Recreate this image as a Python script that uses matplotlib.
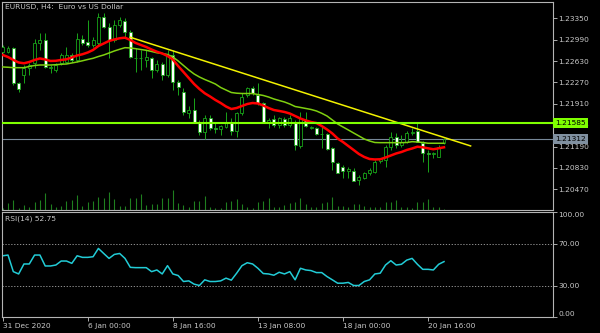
import numpy as np
import matplotlib.pyplot as plt

# EURUSD H4 candles (bar 0 = 31 Dec 2020)
opens = [1.22787, 1.22787, 1.22845, 1.22255, 1.22395, 1.22508, 1.22592, 1.22929, 1.22984, 1.22508,
         1.22479, 1.22592, 1.22619, 1.22732, 1.22648, 1.22996, 1.22956, 1.22900, 1.22929, 1.23377,
         1.23208, 1.22984, 1.23237, 1.23309, 1.23124, 1.22676, 1.22681, 1.22648, 1.22676, 1.22471,
         1.22580, 1.22395, 1.22732, 1.22282, 1.22114, 1.21760, 1.21805, 1.21608, 1.21440, 1.21666,
         1.21497, 1.21480, 1.21524, 1.21608, 1.21457, 1.21750, 1.22058, 1.22171, 1.22058, 1.21918,
         1.21608, 1.21649, 1.21553, 1.21649, 1.21553, 1.21603, 1.21191, 1.21637, 1.21497, 1.21497,
         1.21401, 1.21401, 1.21160, 1.20918, 1.20850, 1.20778, 1.20778, 1.20626, 1.20655, 1.20739,
         1.20766, 1.20952, 1.20963, 1.21177, 1.21356, 1.21216, 1.21266, 1.21413, 1.21452, 1.21250,
         1.21076, 1.21064, 1.21019, 1.21245]
highs = [1.22900, 1.22883, 1.22872, 1.22277, 1.22563, 1.22592, 1.22996, 1.23097, 1.23097, 1.22563,
         1.22592, 1.22760, 1.22872, 1.22760, 1.23097, 1.23069, 1.23321, 1.23040, 1.23434, 1.23434,
         1.23266, 1.23321, 1.23377, 1.23350, 1.23153, 1.22845, 1.22816, 1.22816, 1.22703, 1.22648,
         1.22619, 1.22816, 1.22816, 1.22311, 1.22171, 1.21873, 1.22002, 1.21637, 1.21721, 1.21721,
         1.21581, 1.21553, 1.21777, 1.21666, 1.21777, 1.22087, 1.22198, 1.22210, 1.22255, 1.21945,
         1.21666, 1.21721, 1.21693, 1.21693, 1.21721, 1.21637, 1.21777, 1.21777, 1.21536, 1.21524,
         1.21524, 1.21418, 1.21182, 1.20935, 1.20879, 1.20850, 1.20823, 1.20711, 1.20766, 1.20823,
         1.20963, 1.20992, 1.21216, 1.21440, 1.21413, 1.21384, 1.21452, 1.21497, 1.21585, 1.21283,
         1.21132, 1.21103, 1.21216, 1.21334]
lows = [1.22765, 1.22765, 1.22226, 1.22114, 1.22255, 1.22395, 1.22508, 1.22816, 1.22508, 1.22424,
        1.22450, 1.22563, 1.22592, 1.22619, 1.22619, 1.22900, 1.22872, 1.22872, 1.22900, 1.23181,
        1.22676, 1.22956, 1.23208, 1.23040, 1.22676, 1.22450, 1.22479, 1.22535, 1.22344, 1.22450,
        1.22311, 1.22366, 1.22142, 1.22058, 1.21721, 1.21671, 1.21603, 1.21384, 1.21312, 1.21471,
        1.21413, 1.21384, 1.21497, 1.21384, 1.21356, 1.21721, 1.22029, 1.22058, 1.21890, 1.21581,
        1.21497, 1.21514, 1.21497, 1.21514, 1.21524, 1.21132, 1.21160, 1.21524, 1.21485, 1.21384,
        1.21160, 1.21132, 1.20795, 1.20739, 1.20655, 1.20655, 1.20610, 1.20542, 1.20638, 1.20711,
        1.20739, 1.20908, 1.20850, 1.21132, 1.21160, 1.21187, 1.21250, 1.21384, 1.21258, 1.20930,
        1.20761, 1.20992, 1.21014, 1.21233]
closes = [1.22872, 1.22845, 1.22255, 1.22154, 1.22508, 1.22563, 1.22929, 1.22984, 1.22535, 1.22535,
          1.22563, 1.22732, 1.22732, 1.22648, 1.22996, 1.22929, 1.22900, 1.22984, 1.23377, 1.23208,
          1.22984, 1.23237, 1.23321, 1.23124, 1.22703, 1.22686, 1.22673, 1.22703, 1.22479, 1.22580,
          1.22395, 1.22732, 1.22282, 1.22188, 1.21772, 1.21805, 1.21608, 1.21440, 1.21666, 1.21497,
          1.21489, 1.21536, 1.21608, 1.21457, 1.21750, 1.22029, 1.22171, 1.22087, 1.21918, 1.21608,
          1.21637, 1.21553, 1.21666, 1.21553, 1.21666, 1.21208, 1.21662, 1.21536, 1.21524, 1.21401,
          1.21393, 1.21144, 1.20935, 1.20749, 1.20783, 1.20807, 1.20615, 1.20672, 1.20739, 1.20795,
          1.20935, 1.20975, 1.21177, 1.21356, 1.21216, 1.21272, 1.21418, 1.21440, 1.21272, 1.21076,
          1.21068, 1.21081, 1.21187, 1.21312]

# moving averages as drawn on the chart
ma_red = [1.22732, 1.22698, 1.22648, 1.22605, 1.22592, 1.22614, 1.22648, 1.22673, 1.22656, 1.22631,
          1.22634, 1.22648, 1.22659, 1.22690, 1.22723, 1.22744, 1.22774, 1.22816, 1.22883, 1.22925,
          1.22968, 1.22993, 1.23013, 1.23023, 1.22984, 1.22934, 1.22900, 1.22866, 1.22824, 1.22787,
          1.22757, 1.22715, 1.22656, 1.22546, 1.22445, 1.22344, 1.22243, 1.22159, 1.22087, 1.22033,
          1.21974, 1.21923, 1.21864, 1.21822, 1.21839, 1.21873, 1.21906, 1.21923, 1.21915, 1.21881,
          1.21839, 1.21805, 1.21789, 1.21772, 1.21746, 1.21704, 1.21662, 1.21629, 1.21603, 1.21586,
          1.21536, 1.21477, 1.21410, 1.21325, 1.21266, 1.21199, 1.21132, 1.21064, 1.21014, 1.20980,
          1.20972, 1.20975, 1.21005, 1.21039, 1.21073, 1.21098, 1.21132, 1.21157, 1.21187, 1.21177,
          1.21160, 1.21144, 1.21160, 1.21177]
ma_green = [1.22530, 1.22525, 1.22518, 1.22518, 1.22518, 1.22538, 1.22555, 1.22563, 1.22563, 1.22563,
            1.22568, 1.22575, 1.22580, 1.22597, 1.22614, 1.22634, 1.22656, 1.22676, 1.22706, 1.22732,
            1.22765, 1.22799, 1.22828, 1.22855, 1.22850, 1.22838, 1.22824, 1.22811, 1.22791, 1.22769,
            1.22757, 1.22740, 1.22698, 1.22631, 1.22555, 1.22479, 1.22412, 1.22361, 1.22319, 1.22282,
            1.22243, 1.22184, 1.22142, 1.22100, 1.22088, 1.22083, 1.22083, 1.22082, 1.22066, 1.22050,
            1.22024, 1.21991, 1.21965, 1.21940, 1.21906, 1.21864, 1.21848, 1.21831, 1.21814, 1.21789,
            1.21750, 1.21704, 1.21637, 1.21570, 1.21519, 1.21469, 1.21418, 1.21368, 1.21317, 1.21283,
            1.21258, 1.21255, 1.21255, 1.21255, 1.21255, 1.21255, 1.21258, 1.21272, 1.21266, 1.21258,
            1.21245, 1.21245, 1.21245, 1.21245]

# tick volume
volumes = [2000, 7300, 10000, 1700, 5000, 3300, 7700, 10000, 17300, 6000,
           2700, 4000, 8700, 10000, 15000, 4000, 7700, 9000, 12700, 12000,
           18000, 11000, 4000, 4000, 11700, 12000, 15700, 5000, 6000, 6000,
           12300, 12000, 20000, 7300, 5000, 3300, 9300, 9300, 13700, 3300,
           2300, 2300, 8000, 9300, 11000, 6000, 2700, 2300, 7700, 9300,
           12000, 3300, 3300, 5000, 7300, 8300, 12000, 6000, 2700, 2700,
           7300, 8300, 13000, 4000, 4000, 2700, 6000, 6000, 4000, 2700,
           2700, 2700, 7700, 7700, 10000, 3300, 3300, 1700, 7700, 7700,
           11000, 3300, 2700, 1000]

rsi = [58.3, 59.0, 43.2, 41.0, 50.5, 50.5, 59.0, 59.0, 48.6, 48.6,
       49.5, 53.3, 53.3, 51.1, 58.3, 56.8, 56.8, 57.4, 65.3, 60.5,
       55.8, 59.6, 60.5, 55.8, 47.3, 47.0, 47.0, 47.0, 43.2, 44.8,
       41.0, 48.9, 41.0, 39.5, 33.8, 34.4, 31.3, 30.0, 35.4, 33.8,
       33.8, 34.4, 37.0, 35.1, 41.7, 48.9, 51.7, 50.5, 46.4, 41.4,
       41.0, 39.8, 42.6, 41.0, 43.2, 35.4, 46.4, 44.8, 44.2, 42.3,
       42.3, 38.5, 35.4, 32.2, 32.2, 32.9, 30.0, 30.0, 33.8, 35.4,
       41.0, 41.7, 49.5, 53.6, 49.5, 50.2, 54.2, 55.8, 50.2, 45.4,
       45.4, 44.8, 50.2, 52.75]

trend_x = [24, 88]
trend_y = [1.23030, 1.21200]
level = 1.21585
bid = 1.21312

price_ticks = [1.23350, 1.22990, 1.22630, 1.22270, 1.21910, 1.21550, 1.21190, 1.20830, 1.20470]
date_ticks = [0, 16, 32, 48, 64, 80]
date_labels = ["31 Dec 2020", "6 Jan 00:00", "8 Jan 16:00", "13 Jan 08:00", "18 Jan 00:00", "20 Jan 16:00"]
rsi_ticks = [100, 70, 30, 0]

CANDLE = "#19a519"
FG = "#c8c8c8"
FS = 5.4

o = np.array(opens)
c = np.array(closes)
x = np.arange(len(c))
up = c >= o

fig = plt.figure(figsize=(6, 3.33), dpi=100, facecolor="black")
W, H = 600, 333
ax = fig.add_axes([2 / W, 1 - 210 / H, 551 / W, 208 / H], facecolor="black")
ax2 = fig.add_axes([2 / W, 1 - 317 / H, 551 / W, 105 / H], facecolor="black", sharex=ax)

# volume histogram at the bottom of the price panel
ax.vlines(x, 0, np.array(volumes) / 208000, transform=ax.get_xaxis_transform(),
          color="#1f7f1f", lw=0.8, zorder=1)

# candles
ax.vlines(x, lows, highs, color=CANDLE, lw=0.7, zorder=3)
ax.bar(x, np.maximum(np.abs(c - o), 0.00003), bottom=np.minimum(o, c), width=0.56,
       color=np.where(up, "black", "white"), edgecolor=CANDLE, linewidth=0.6, zorder=4)

ax.plot(x, ma_green, color="#7fd010", lw=1.1, zorder=5)
ax.plot(x, ma_red, color="#ff0000", lw=1.8, zorder=6)
ax.plot(trend_x, trend_y, color="#f2f200", lw=1.1, zorder=7)
ax.axhline(level, color="#7fff00", lw=1.5, zorder=7)
ax.axhline(bid, color="#778899", lw=0.8, zorder=2)

ax.set_xlim(-0.13, 103.5)
ax.set_ylim(1.20121, 1.23624)
ax.yaxis.tick_right()
ax.set_yticks(price_ticks, [f"{p:.5f}" for p in price_ticks])
ax.tick_params(axis="y", colors=FG, labelsize=FS, length=3, width=0.6, pad=1)
ax.tick_params(axis="x", bottom=False, labelbottom=False)

for val, bg in [(level, "#7fff00"), (bid, "#8090a0")]:
    ax.text(1.004, val, f"{val:.5f}", transform=ax.get_yaxis_transform(), fontsize=FS,
            color="black", va="center", ha="left", zorder=10, clip_on=False,
            bbox=dict(boxstyle="square,pad=0.25", fc=bg, ec="none"))

ax.text(3 / 551, 1 - 2 / 208, "EURUSD, H4:  Euro vs US Dollar", transform=ax.transAxes,
        color=FG, fontsize=FS, va="top", ha="left")

# RSI panel
ax2.plot(x, rsi, color="#22ccd6", lw=1.1)
for lv in [70, 30]:
    ax2.axhline(lv, color="#a8a8a8", lw=0.6, ls=(0, (1.5, 2)))
ax2.set_ylim(0, 100)
ax2.yaxis.tick_right()
ax2.set_yticks(rsi_ticks, [f"{v:.2f}" for v in rsi_ticks])
ax2.tick_params(axis="y", colors=FG, labelsize=FS, length=3, width=0.6, pad=1)
labs = ax2.get_yticklabels()
labs[0].set_va("top")
labs[-1].set_va("bottom")
ax2.text(3 / 551, 1 - 3 / 105, f"RSI(14) {rsi[-1]:.2f}", transform=ax2.transAxes,
         color=FG, fontsize=FS, va="top", ha="left")

ax2.set_xticks(date_ticks, date_labels)
ax2.tick_params(axis="x", colors=FG, labelsize=FS, length=3, width=0.6, pad=1)
for lbl in ax2.get_xticklabels():
    lbl.set_ha("left")

for a in (ax, ax2):
    for s in a.spines.values():
        s.set_color("#b4b4b4")
        s.set_linewidth(0.8)

fig.savefig("out.png", dpi=100, facecolor="black")
